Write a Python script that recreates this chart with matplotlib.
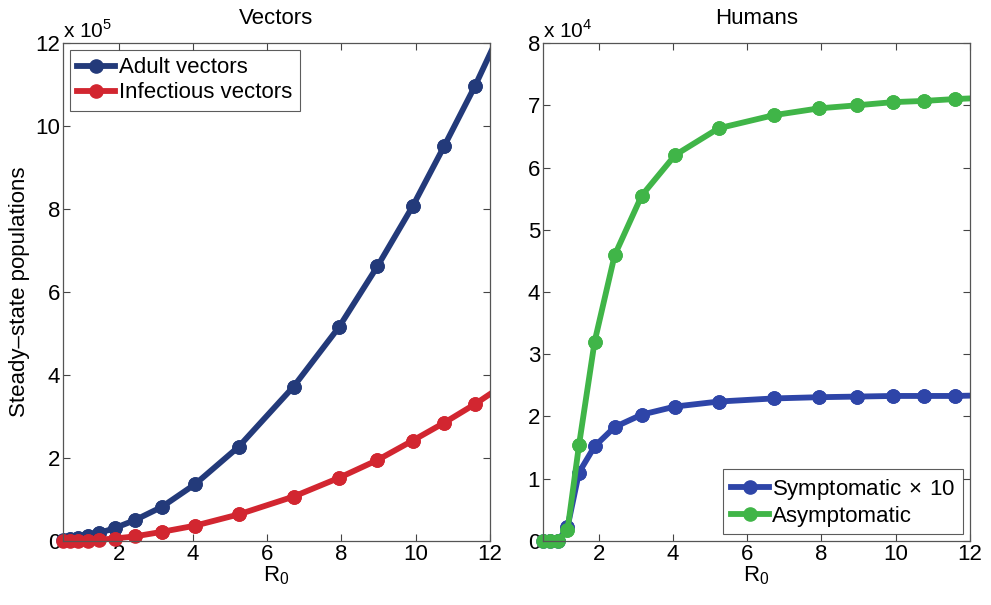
import numpy as np
import matplotlib.pyplot as plt
from matplotlib.ticker import MultipleLocator

plt.rcParams['font.family'] = ['Liberation Sans', 'DejaVu Sans']
plt.rcParams['mathtext.fontset'] = 'custom'
plt.rcParams['mathtext.rm'] = 'Liberation Sans'

# basic reproduction number values used for the runs
r0 = [0.5, 0.68, 0.9, 1.16, 1.47, 1.89, 2.43, 3.16, 4.06, 5.23, 6.71,
      7.93, 8.97, 9.92, 10.77, 11.6, 12.4]

# vectors, units of 1e5
adult = [0.02, 0.04, 0.07, 0.12, 0.19, 0.31, 0.5, 0.82, 1.37, 2.27, 3.72,
         5.15, 6.62, 8.07, 9.52, 10.97, 12.5]
infectious = [0.0, 0.0, 0.01, 0.01, 0.03, 0.06, 0.11, 0.22, 0.37, 0.64, 1.07,
              1.52, 1.95, 2.42, 2.85, 3.3, 3.78]

# humans, units of 1e4
symptomatic = [0.0, 0.0, 0.0, 0.22, 1.1, 1.52, 1.83, 2.03, 2.16, 2.24, 2.29,
               2.31, 2.32, 2.33, 2.33, 2.33, 2.34]
asymptomatic = [0.0, 0.0, 0.0, 0.17, 1.54, 3.2, 4.59, 5.55, 6.2, 6.63, 6.84,
                6.95, 7.0, 7.05, 7.07, 7.1, 7.12]

c_adult = '#233a7a'
c_inf = '#d22630'
c_sym = '#2e45a8'
c_asym = '#40b548'

FS = 16

fig = plt.figure(figsize=(9.91, 6.05), dpi=100)
ax1 = fig.add_axes([0.0636, 0.1058, 0.4308, 0.8231])
ax2 = fig.add_axes([0.5479, 0.1058, 0.4309, 0.8231])

x = np.array(r0)
inside = x <= 12


def draw(ax, y, color, label):
    y = np.array(y)
    ax.plot(x, y, '-o', color=color, lw=4.2, ms=9.5, label=label)
    # matlab style: markers at the edge are not cut off
    ax.plot(x[inside], y[inside], 'o', color=color, ms=9.5, clip_on=False)


draw(ax1, adult, c_adult, 'Adult vectors')
draw(ax1, infectious, c_inf, 'Infectious vectors')
draw(ax2, symptomatic, c_sym, r'Symptomatic$\,\times\,$10')
draw(ax2, asymptomatic, c_asym, 'Asymptomatic')

for ax, ymax in [(ax1, 12), (ax2, 8)]:
    ax.set_xlim(0.5, 12)
    ax.set_ylim(0, ymax)
    ax.set_xticks([2, 4, 6, 8, 10, 12])
    ax.yaxis.set_major_locator(MultipleLocator(2 if ymax == 12 else 1))
    ax.tick_params(direction='in', top=True, right=True, labelsize=FS,
                   length=5, width=0.8, color='#444444', pad=2)
    for s in ax.spines.values():
        s.set_color('#555555')
        s.set_linewidth(0.9)
    ax.set_xlabel(r'R$_0$', fontsize=FS, labelpad=0)

ax1.set_title('Vectors', fontsize=FS, pad=14)
ax2.set_title('Humans', fontsize=FS, pad=14)
ax1.set_ylabel('Steady\u2013state populations', fontsize=FS, labelpad=4)

ax1.text(0.0, 1.002, r'x 10$^5$', transform=ax1.transAxes, fontsize=FS - 1,
         ha='left', va='bottom')
ax2.text(0.0, 1.002, r'x 10$^4$', transform=ax2.transAxes, fontsize=FS - 1,
         ha='left', va='bottom')

leg_kw = dict(fontsize=FS, frameon=True, fancybox=False, handlelength=1.7,
              handletextpad=0.15, borderpad=0.35, labelspacing=0.18,
              borderaxespad=0.3)
l1 = ax1.legend(loc='upper left', **leg_kw)
l2 = ax2.legend(loc='lower right', **leg_kw)
for lg in (l1, l2):
    lg.get_frame().set_edgecolor('#333333')
    lg.get_frame().set_linewidth(0.8)

fig.savefig('out.png', dpi=100)
